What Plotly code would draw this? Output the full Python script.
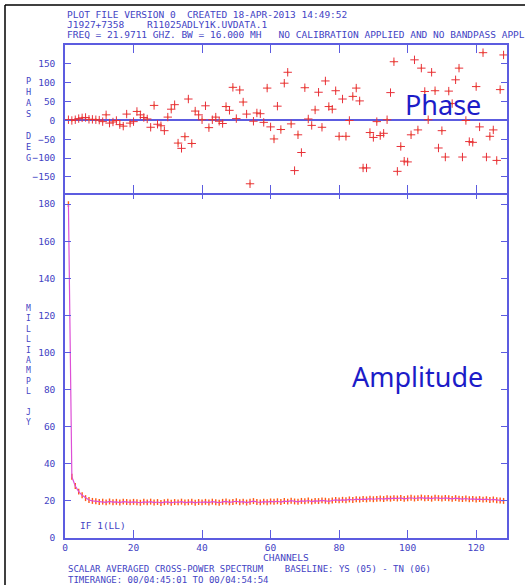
import plotly.graph_objects as go

# ---------------- data ----------------
channels = list(range(1, 129))

phase_deg = [
    2, 0, 2, 5, 7, 8, 3, 3, 2, 1,
    -3, 15, -7, -4, 0, -11, -15, 17, -7, -3,
    24, 15, 8, 4, -18, 40, -10, -14, -27, 9,
    30, 42, -60, -74, -43, 57, -61, 25, 15, 2,
    39, -19, 2, 9, -2, -8, 37, 27, 88, 5,
    81, 49, 17, -168, -2, 20, 18, -5, 86, -17,
    -49, 38, -24, 99, 128, -9, -133, -38, -85, 87,
    4, -13, 28, 75, -18, 105, 37, 30, 79, -42,
    57, -42, 0, 64, 86, 52, -126, -126, -32, -45,
    -3, -40, -34, 2, 74, 156, -135, -69, -108, -110,
    -38, 161, -25, 139, 77, 2, 128, 79, -73, -27,
    -97, 78, 45, 108, 139, -97, 0, -56, -58, 90,
    -17, 180, -97, -42, -25, -106, 82, 174,
]

amp_mjy = [
    180, 33, 28, 25, 23, 21.5, 20.5, 20.0, 19.8, 19.4,
    19.6, 19.2, 19.7, 19.3, 19.5, 19.1, 19.6, 19.4, 19.2, 19.5,
    19.3, 19.0, 19.5, 19.2, 19.6, 19.1, 19.4, 18.9, 19.3, 19.5,
    19.0, 19.4, 19.2, 19.6, 19.1, 19.3, 19.5, 19.0, 19.4, 19.2,
    19.5, 19.1, 19.6, 19.3, 19.0, 19.5, 19.7, 19.2, 19.4, 19.8,
    19.3, 19.6, 19.1, 19.5, 19.9, 19.4, 19.2, 19.6, 19.3, 19.7,
    19.5, 19.8, 19.4, 19.9, 19.6, 20.1, 19.7, 19.5, 20.0, 19.8,
    20.2, 19.6, 20.0, 19.9, 20.3, 20.1, 19.8, 20.2, 20.5, 20.3,
    20.6, 20.4, 20.8, 20.5, 20.9, 20.7, 21.0, 20.8, 21.2, 20.9,
    21.1, 21.3, 21.0, 21.4, 21.2, 21.5, 21.3, 21.6, 21.1, 21.4,
    21.7, 21.3, 21.5, 21.8, 21.4, 21.6, 21.2, 21.7, 21.5, 21.3,
    21.6, 21.4, 21.1, 21.5, 21.2, 21.0, 21.3, 20.9, 21.1, 20.8,
    21.0, 20.7, 20.9, 20.5, 20.8, 20.4, 20.2, 20.0,
]

amp_err = [1.6] * len(channels)
phase_err = [4] * len(channels)

x_ticks = [0, 20, 40, 60, 80, 100, 120]
phase_ticks = [-150, -100, -50, 0, 50, 100, 150]
amp_ticks = [0, 20, 40, 60, 80, 100, 120, 140, 160, 180]

header_lines = [
    "PLOT FILE VERSION 0  CREATED 18-APR-2013 14:49:52",
    "J1927+7358    R11025ADLY1K.UVDATA.1",
    "FREQ = 21.9711 GHZ. BW = 16.000 MH   NO CALIBRATION APPLIED AND NO BANDPASS APPL",
]
footer_lines = [
    "SCALAR AVERAGED CROSS-POWER SPECTRUM    BASELINE: YS (05) - TN (06)",
    "TIMERANGE: 00/04:45:01 TO 00/04:54:54",
]

# ---------------- style ----------------
W, H = 525, 585
L, R, T, B = 65, 18, 45, 47
plot_h = H - T - B
split = (538 - 193) / plot_h
overlap = 1.5 / plot_h

TXT = "#4343c4"
AX = "#5c5ce0"
MONO = "DejaVu Sans Mono"

def px_x(p):
    return (p - L) / (W - L - R)

def px_y(p):
    return (H - B - p) / plot_h

fig = go.Figure()

fig.add_trace(go.Scatter(
    x=channels, y=amp_mjy, mode="lines",
    line=dict(color="#dd4fd6", width=1.2),
    error_y=dict(type="data", array=amp_err, color="#ff5a14", thickness=1.4, width=0),
    xaxis="x", yaxis="y", showlegend=False,
))

fig.add_trace(go.Scatter(
    x=channels, y=phase_deg, mode="markers",
    marker=dict(symbol="cross-thin", size=6, color="#e8303a",
                line=dict(color="#e8303a", width=1)),
    error_y=dict(type="data", array=phase_err, color="#f0cc10", thickness=1, width=0),
    xaxis="x2", yaxis="y2", showlegend=False,
))

axis_common = dict(
    showline=True, linecolor=AX, linewidth=1.5, mirror="ticks",
    ticks="inside", tickcolor=AX, showgrid=False, zeroline=False,
    tickfont=dict(family=MONO, size=9.5, color=TXT),
)

fig.update_layout(
    width=W, height=H,
    margin=dict(l=L, r=R, t=T, b=B),
    paper_bgcolor="white", plot_bgcolor="white",
    xaxis=dict(axis_common, domain=[0, 1], range=[0, 129], tickvals=x_ticks,
               ticklen=8, anchor="y"),
    yaxis=dict(axis_common, domain=[0, split + overlap], range=[0, 186.8],
               tickvals=amp_ticks, ticklen=6, anchor="x", ticklabelstandoff=6),
    xaxis2=dict(axis_common, domain=[0, 1], range=[0, 129], tickvals=x_ticks,
                ticklen=8, anchor="y2", showticklabels=False),
    yaxis2=dict(axis_common, domain=[split, 1], range=[-192.5, 200.4],
                tickvals=phase_ticks, ticklen=6, anchor="x2", ticklabelstandoff=6,
                zeroline=True, zerolinecolor=AX, zerolinewidth=1.5),
)

ann = []
for i, t in enumerate(header_lines):
    ann.append(dict(text=t, xref="paper", yref="paper", x=px_x(65), y=px_y(15 + 10 * i),
                    xanchor="left", yanchor="middle", showarrow=False,
                    font=dict(family=MONO, size=9.5, color=TXT)))
for i, t in enumerate(footer_lines):
    ann.append(dict(text=t, xref="paper", yref="paper", x=px_x(66), y=px_y(569 + 10.5 * i),
                    xanchor="left", yanchor="middle", showarrow=False,
                    font=dict(family=MONO, size=9, color=TXT)))
ann.append(dict(text="CHANNELS", xref="paper", yref="paper", x=px_x(286), y=px_y(557),
                xanchor="center", yanchor="middle", showarrow=False,
                font=dict(family=MONO, size=9.5, color=TXT)))
ann.append(dict(text="IF 1(LL)", xref="paper", yref="paper", x=px_x(78), y=px_y(525),
                xanchor="left", yanchor="middle", showarrow=False,
                font=dict(family=MONO, size=9.5, color=TXT)))
ann.append(dict(text="<br>".join(list("PHAS") + [" "] + list("DEG")),
                xref="paper", yref="paper", x=px_x(28), y=px_y(120),
                xanchor="center", yanchor="middle", showarrow=False,
                font=dict(family=MONO, size=8.5, color=TXT)))
ann.append(dict(text="<br>".join(list("MILLIAMPL") + [" "] + list("JY")),
                xref="paper", yref="paper", x=px_x(28), y=px_y(365),
                xanchor="center", yanchor="middle", showarrow=False,
                font=dict(family=MONO, size=8, color=TXT)))
ann.append(dict(text="Phase", xref="paper", yref="paper", x=px_x(443), y=px_y(104),
                xanchor="center", yanchor="middle", showarrow=False,
                font=dict(family="Noto Sans", size=27, color="#1c1cc8")))
ann.append(dict(text="Amplitude", xref="paper", yref="paper", x=px_x(417), y=px_y(376),
                xanchor="center", yanchor="middle", showarrow=False,
                font=dict(family="Noto Sans", size=27, color="#1c1cc8")))
fig.update_layout(annotations=ann)

fig.update_layout(shapes=[
    dict(type="line", xref="paper", yref="paper", x0=px_x(5), x1=px_x(525),
         y0=px_y(5), y1=px_y(5), line=dict(color="black", width=1.5)),
    dict(type="line", xref="paper", yref="paper", x0=px_x(5), x1=px_x(5),
         y0=px_y(5), y1=px_y(585), line=dict(color="black", width=1.5)),
])

fig.write_html("out.html", config={"displayModeBar": False})

# remove the browser's default 8px body margin so the figure sits at the page origin
with open("out.html", "r", encoding="utf-8") as f:
    html = f.read()
html = html.replace("<head>", "<head><style>html,body{margin:0;padding:0;overflow:hidden;}</style>", 1)
with open("out.html", "w", encoding="utf-8") as f:
    f.write(html)
